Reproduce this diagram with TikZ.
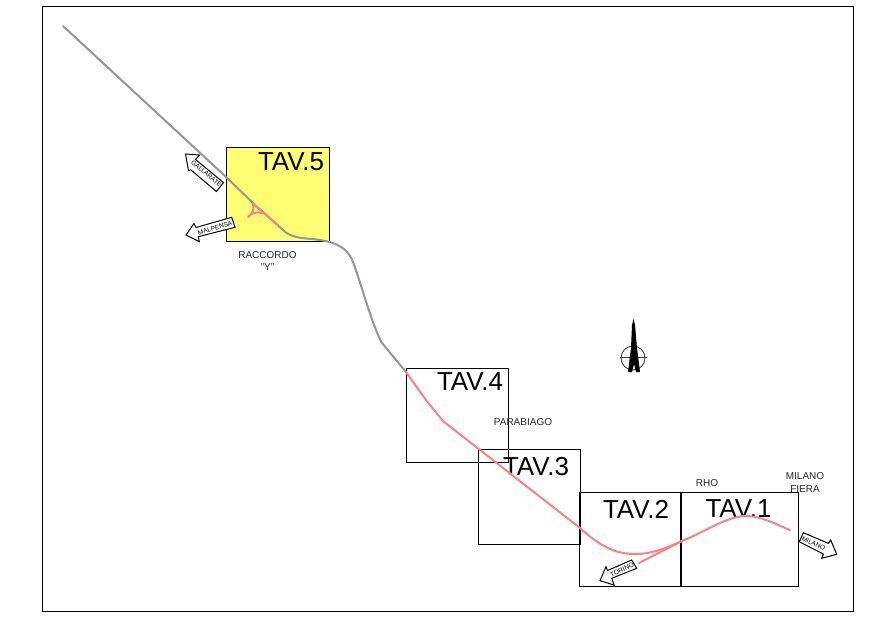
\documentclass[tikz,border=0pt]{standalone}
\usepackage{fontspec}
\setmainfont{Liberation Sans}
\definecolor{roadgrey}{RGB}{150,150,150}
\definecolor{roadpink}{RGB}{250,130,135}
\definecolor{tavyellow}{RGB}{255,255,115}
\tikzset{
  sheet/.style={draw=black,line width=0.95pt,line join=miter},
  road/.style={line width=2pt,line cap=round,line join=round},
  arrowbox/.style={draw=black,fill=white,line width=1pt,line join=miter},
  tav/.style={font=\fontsize{26}{26}\selectfont,text=black,inner sep=0pt},
  place/.style={font=\fontsize{10}{12.5}\selectfont,text=black!85,inner sep=0pt,align=center},
  sign/.style={font=\fontsize{6.5}{7}\selectfont,text=black,inner sep=0pt}
}
\begin{document}
\begin{tikzpicture}[x=1pt,y=-1pt]
\useasboundingbox (0,0) rectangle (892,630);
\fill[white] (0,0) rectangle (892,630);
\draw[sheet] (42,6) rectangle (853,611);
% sheets
\draw[sheet,fill=tavyellow] (226,147) rectangle (329,241);
\draw[sheet] (406,368) rectangle (508,462);
\draw[sheet] (478,449) rectangle (580,544);
\draw[sheet] (579,492) rectangle (680,586);
\draw[sheet] (681,492) rectangle (798,586);
% titles
\node[tav] (t5) at (291,162) {TAV.5};
\node[tav] (t4) at (470,382) {TAV.4};
\node[tav] (t3) at (536,467) {TAV.3};
\node[tav] (t2) at (636,509) {TAV.2};
\node[tav] (t1) at (738.5,509) {TAV.1};
% grey road
\draw[road,roadgrey] (63,26) -- (225,176) -- (255,205) -- (283,230)
  .. controls (290,237) and (300,238) .. (312,239)
  .. controls (330,241) and (346,244) .. (353,262)
  .. controls (360,280) and (372,325) .. (382,343)
  -- (406,372);
% Y junction
\draw[road,roadpink] (252,203) -- (278,225);
\draw[road,roadpink] (253,204) .. controls (254,209) and (254,212) .. (248,217);
\draw[road,roadpink] (250,215) .. controls (254,212) and (259,212) .. (262,213);
% pink road
\draw[road,roadpink] (406,372) -- (426,400) -- (443,421) -- (480,450) -- (580,528)
  .. controls (600,546) and (615,554) .. (635,554)
  .. controls (655,554) and (670,546) .. (682,541)
  .. controls (705,532) and (725,517) .. (745,516)
  .. controls (762,516) and (775,524) .. (790,530);
\draw[road,roadpink] (639,563) -- (682,541);
% direction signs
\draw[arrowbox] (185.5,154) -- (199.5,155) -- (195.5,159.5) -- (223.5,182.5) -- (216.5,191.5) -- (191,170) -- (188.5,170.5) -- cycle;
\draw[arrowbox] (186,235) -- (194,223.5) -- (196,227.5) -- (231.7,217.3) -- (235,227.3) -- (198.3,236.7) -- (199.3,241.7) -- cycle;
\draw[arrowbox] (600,580.7) -- (606,566.7) -- (607.5,570.5) -- (631.7,560) -- (636.7,568.3) -- (611.7,578.3) -- (614,585) -- cycle;
\draw[arrowbox] (836.7,554.3) -- (830.7,540) -- (828.3,543.3) -- (803.3,532.7) -- (799.3,541.7) -- (823.3,554) -- (821.7,558.3) -- cycle;
\node[sign,rotate=-40] (sgal) at (206.5,173.5) {GALLARATE};
\node[sign,rotate=17] (smal) at (215,228) {MALPENSA};
\node[sign,rotate=25] (stor) at (622,570) {TORINO};
\node[sign,rotate=-25] (smil) at (813.5,543.5) {MILANO};
% places
\node[place] (raccordo) at (267.5,261) {RACCORDO\\"Y"};
\node[place] (parabiago) at (523,422) {PARABIAGO};
\node[place] (rho) at (707,483) {RHO};
\node[place] (fiera) at (805,482.5) {MILANO\\FIERA};
% north sign
\draw[line width=0.9pt,draw=black!75] (633,358) circle (12);
\draw[line width=0.9pt,draw=black!75] (620,357) -- (647,357);
\fill[black] (633.5,319) -- (635,325) -- (637,348) -- (640,372) -- (636,372) -- (634,364) -- (632,372) -- (628,372) -- (631,348) -- (632,325) -- cycle;
\end{tikzpicture}
\end{document}
